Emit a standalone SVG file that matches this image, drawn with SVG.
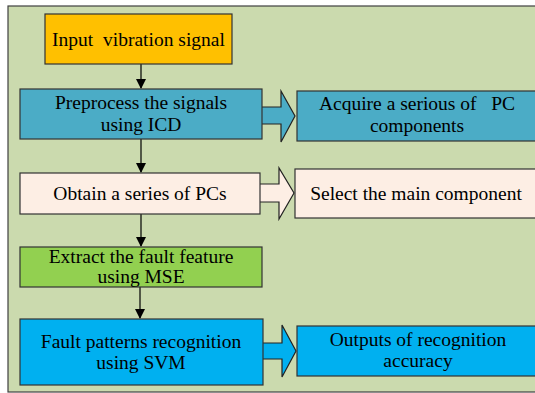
<svg xmlns="http://www.w3.org/2000/svg" width="535" height="393" viewBox="0 0 535 393">
<defs>
<style>
.bg{fill:#CBDAAE;stroke:#404040;stroke-width:1.2}
.box{stroke:#333333;stroke-width:1.2}
.t{font-family:"Liberation Serif","Times New Roman",serif;font-size:19.5px;fill:#000;text-anchor:middle}
.ln{stroke:#000;stroke-width:1.2;fill:none}
.barrow{stroke:#222;stroke-width:1.2}
</style>
<marker id="ah" markerWidth="10" markerHeight="10" refX="9" refY="5" orient="auto" markerUnits="userSpaceOnUse">
<path d="M0,0 L10,5 L0,10 Z" fill="#000"/>
</marker>
</defs>
<rect class="bg" x="8" y="6" width="540" height="386"/>
<g id="connectors">
<line class="ln" x1="141" y1="64" x2="141" y2="88" marker-end="url(#ah)"/>
<line class="ln" x1="141" y1="139" x2="141" y2="172" marker-end="url(#ah)"/>
<line class="ln" x1="141" y1="214" x2="141" y2="246" marker-end="url(#ah)"/>
<line class="ln" x1="140" y1="287" x2="140" y2="318" marker-end="url(#ah)"/>
<path class="barrow" fill="#4BACC6" d="M262,107 H281 V91 L295,116 L281,142 V124 H262"/>
<path class="barrow" fill="#FDEEE4" d="M260,184 H279 V168 L294,193 L279,219 V202 H260"/>
<path class="barrow" fill="#00B0F0" d="M263,343 H282 V325 L296,351 L282,377 V359 H263"/>
</g>
<g id="n1">
<rect class="box" x="45" y="14" width="187" height="50" fill="#FFC000"/>
<text class="t" x="138.5" y="46" xml:space="preserve">Input  vibration signal</text>
</g>
<g id="n2">
<rect class="box" x="20" y="89" width="242" height="50" fill="#4BACC6"/>
<text class="t" x="141" y="109">Preprocess the signals</text>
<text class="t" x="141" y="131">using ICD</text>
</g>
<g id="n3">
<rect class="box" x="297" y="91" width="250" height="50" fill="#4BACC6"/>
<text class="t" x="417" y="110" xml:space="preserve">Acquire a serious of   PC</text>
<text class="t" x="417" y="132">components</text>
</g>
<g id="n4">
<rect class="box" x="20" y="173" width="240" height="41" fill="#FDEEE4"/>
<text class="t" x="140" y="200">Obtain a series of PCs</text>
</g>
<g id="n5">
<rect class="box" x="295" y="169" width="252" height="49" fill="#FDEEE4"/>
<text class="t" x="416" y="200">Select the main component</text>
</g>
<g id="n6">
<rect class="box" x="20" y="247" width="242" height="40" fill="#92D050"/>
<text class="t" x="141" y="263">Extract the fault feature</text>
<text class="t" x="141" y="283">using MSE</text>
</g>
<g id="n7">
<rect class="box" x="20" y="319" width="243" height="66" fill="#00B0F0"/>
<text class="t" x="141" y="348">Fault patterns recognition</text>
<text class="t" x="141" y="369">using SVM</text>
</g>
<g id="n8">
<rect class="box" x="297" y="326" width="250" height="50" fill="#00B0F0"/>
<text class="t" x="418" y="346">Outputs of recognition</text>
<text class="t" x="418" y="367">accuracy</text>
</g>
</svg>
